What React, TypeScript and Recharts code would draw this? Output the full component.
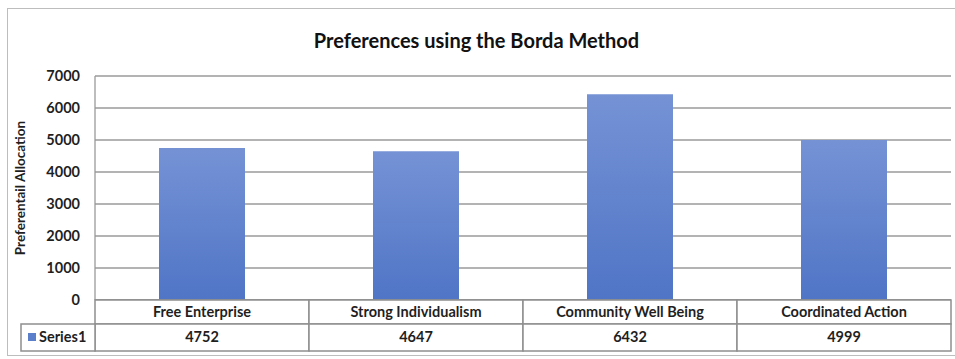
import React from 'react';
import { BarChart, Bar, XAxis, YAxis, CartesianGrid } from 'recharts';

// Borda-count totals per preference
const categories = ['Free Enterprise', 'Strong Individualism', 'Community Well Being', 'Coordinated Action'];
const series1 = [4752, 4647, 6432, 4999];
const yTicks = [0, 1000, 2000, 3000, 4000, 5000, 6000, 7000];
const seriesName = 'Series1';

const data = categories.map((name, i) => ({ name, value: series1[i] }));

const W = 955;
const H = 359;
const PLOT_LEFT = 95;
const PLOT_RIGHT = 951;
const PLOT_TOP = 76;
const PLOT_BOTTOM = 300;
const ROW1_H = 24;
const ROW2_H = 27;
const CELL_W = (PLOT_RIGHT - PLOT_LEFT) / categories.length;
const FONT = 'Lato, "Open Sans", sans-serif';
const TEXT = '#1f1f1f';
const LINE = '#8f8f8f';
const TABLE_FS = 14.5;

// Data table drawn beneath each category: name row, then value row
const TableTick = (props: any) => {
  const { x, y, payload, index } = props;
  const left = x - CELL_W / 2;
  return (
    <g>
      <rect x={left} y={y} width={CELL_W} height={ROW1_H} fill="#fff" stroke={LINE} strokeWidth={1.5} />
      <text x={x} y={y + ROW1_H / 2 + 1} textAnchor="middle" dominantBaseline="middle"
        fontFamily={FONT} fontSize={TABLE_FS} fontWeight={700} fill={TEXT}>
        {payload.value}
      </text>
      <rect x={left} y={y + ROW1_H} width={CELL_W} height={ROW2_H} fill="#fff" stroke={LINE} strokeWidth={1.5} />
      <text x={x} y={y + ROW1_H + ROW2_H / 2 + 1} textAnchor="middle" dominantBaseline="middle"
        fontFamily={FONT} fontSize={TABLE_FS} fontWeight={700} fill={TEXT}>
        {series1[index]}
      </text>
      {index === 0 && (
        <g>
          <rect x={21} y={y + ROW1_H} width={left - 21} height={ROW2_H} fill="#fff" stroke={LINE} strokeWidth={1.5} />
          <rect x={28} y={y + ROW1_H + 9} width={8} height={8} fill="#5b7fcb" />
          <text x={39} y={y + ROW1_H + ROW2_H / 2 + 1} textAnchor="start" dominantBaseline="middle"
            fontFamily={FONT} fontSize={TABLE_FS} fontWeight={700} fill={TEXT}>
            {seriesName}
          </text>
        </g>
      )}
    </g>
  );
};

export default function App() {
  return (
    <div style={{ position: 'absolute', left: 0, top: 0, width: W, height: H, background: '#fff', overflow: 'hidden' }}>
      <div style={{
        position: 'absolute', left: 7, top: 8, width: 960, height: 348,
        border: '1px solid #bdbdbd', boxSizing: 'border-box',
      }} />
      <div style={{
        position: 'absolute', left: 0, top: 27, width: W - 2, textAlign: 'center',
        fontFamily: FONT, fontWeight: 700, fontSize: 20, color: '#111', lineHeight: '26px',
      }}>
        Preferences using the Borda Method
      </div>
      <div style={{ position: 'absolute', left: 0, top: 0 }}>
        <BarChart
          width={W}
          height={H}
          data={data}
          margin={{ top: PLOT_TOP, right: W - PLOT_RIGHT, left: 0, bottom: H - PLOT_BOTTOM - ROW1_H - ROW2_H }}
          barSize={86}
        >
          <defs>
            <linearGradient id="barFill" x1="0" y1="0" x2="0" y2="1">
              <stop offset="0%" stopColor="#7592d5" />
              <stop offset="100%" stopColor="#5075c6" />
            </linearGradient>
          </defs>
          <CartesianGrid horizontal vertical={false} stroke="#9a9a9a" strokeWidth={1.3} />
          <YAxis
            width={PLOT_LEFT}
            domain={[0, 7000]}
            ticks={yTicks}
            interval={0}
            tickLine={false}
            tickSize={0}
            tickMargin={15}
            axisLine={{ stroke: '#9a9a9a', strokeWidth: 1.3 }}
            tick={{ fontFamily: FONT, fontSize: 14.5, fontWeight: 700, fill: TEXT }}
            label={{
              value: 'Preferentail Allocation',
              angle: -90,
              position: 'insideLeft',
              offset: 20,
              style: { textAnchor: 'middle', fontFamily: FONT, fontSize: 13.5, fontWeight: 700, fill: TEXT },
            }}
          />
          <XAxis
            dataKey="name"
            height={ROW1_H + ROW2_H}
            interval={0}
            tickLine={false}
            tickSize={0}
            tickMargin={0}
            axisLine={{ stroke: LINE, strokeWidth: 1.5 }}
            tick={<TableTick />}
          />
          <Bar dataKey="value" fill="url(#barFill)" isAnimationActive={false} />
        </BarChart>
      </div>
    </div>
  );
}
